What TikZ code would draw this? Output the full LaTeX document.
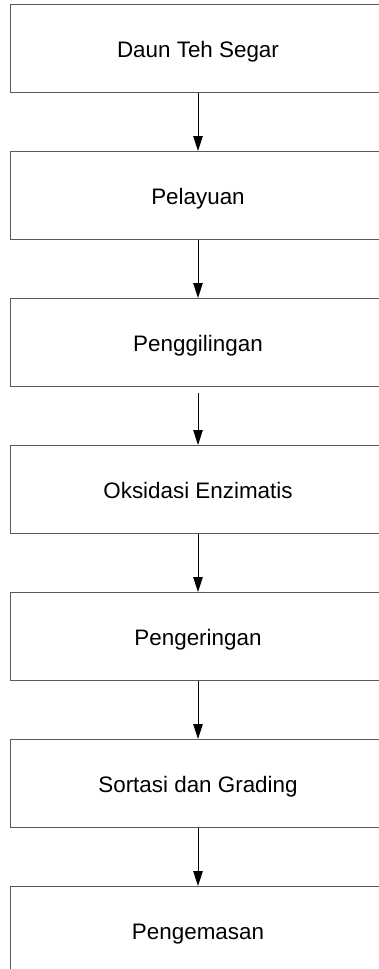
\documentclass[tikz,border=0pt]{standalone}
\usepackage{fontspec}
\setmainfont{Liberation Sans}
\usetikzlibrary{arrows.meta}
\begin{document}
\begin{tikzpicture}[x=1pt,y=1pt,
  stepbox/.style={draw=black!65, line width=1pt, minimum width=375pt, minimum height=88pt,
    anchor=north west, inner sep=0pt, text height=18pt, text depth=0pt,
    font=\fontsize{22.4}{26}\selectfont},
  flow/.style={draw=black, line width=0.9pt, -{Triangle[length=15pt,width=9.5pt]}}]
\clip (0,0) rectangle (379,-969);
\node[stepbox] (n1) at (10,-4) {Daun Teh Segar};
\node[stepbox] (n2) at (10,-151) {Pelayuan};
\node[stepbox] (n3) at (10,-298) {Penggilingan};
\node[stepbox] (n4) at (10,-445) {Oksidasi Enzimatis};
\node[stepbox] (n5) at (10,-592) {Pengeringan};
\node[stepbox] (n6) at (10,-739) {Sortasi dan Grading};
\node[stepbox] (n7) at (10,-886) {Pengemasan};
\draw[flow] (n1.south) -- (n2.north);
\draw[flow] (n2.south) -- (n3.north);
\draw[flow] ([yshift=-6pt]n3.south) -- (n4.north);
\draw[flow] (n4.south) -- (n5.north);
\draw[flow] (n5.south) -- (n6.north);
\draw[flow] (n6.south) -- (n7.north);
\end{tikzpicture}
\end{document}
